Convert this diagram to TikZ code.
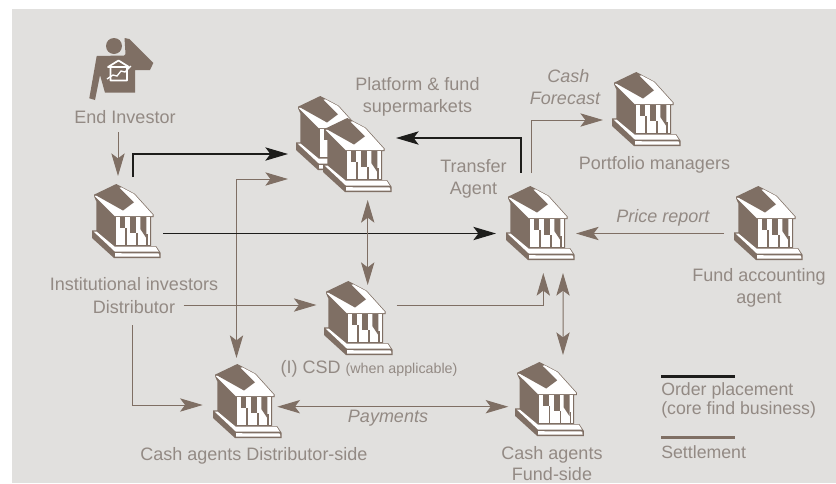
\documentclass[tikz,border=0pt]{standalone}
\usepackage{fontspec}
\setmainfont{Liberation Sans}
\usetikzlibrary{arrows.meta}
\definecolor{bgc}{HTML}{E1E0DE}
\definecolor{brownc}{HTML}{7F6F64}
\definecolor{txtc}{HTML}{938A84}
\definecolor{blackc}{HTML}{1D1D1B}
\tikzset{
  x=0.75pt,y=-0.75pt,
  tip/.style={-{Stealth[length=17pt,width=10pt,inset=3.8pt]}},
  bothtips/.style={{Stealth[length=17pt,width=10pt,inset=3.8pt]}-{Stealth[length=17pt,width=10pt,inset=3.8pt]}},
  settleline/.style={draw=brownc,line width=0.75pt,brownc},
  orderline/.style={draw=blackc,line width=0.85pt,blackc},
  banknode/.style={inner sep=0pt,minimum width=51.75pt,minimum height=55.5pt},
  lab/.style={text=txtc,font=\fontsize{13.5pt}{16.7pt}\selectfont,align=center,inner sep=0pt},
  ilab/.style={lab,font=\fontsize{13.5pt}{16.7pt}\selectfont\itshape},
  leglab/.style={lab,align=left,anchor=west,font=\fontsize{13.3pt}{14.8pt}\selectfont},
  bank/.pic={
    \begin{scope}[shift={(-34.5,-37)}]
    \fill[brownc] (2,10.7)--(24.3,0)--(42.7,9.7)--(61.7,30.7)--(61.7,33)--(59,33)--(59,62)--(64,62)--(68.7,69)--(68.7,74)--(22,74)--(0,54)--(0,46.3)--(4.3,46.3)--(4.3,17.3)--(2,12.3)--cycle;
    \fill[white] (2.5,12)--(29.3,3.3)--(42,10)--(60.7,30.7)--(60.7,32)--(22.7,32)--cycle;
    \fill[brownc] (3,10.8)--(24.3,0.8)--(42,18.3)--(31,26.5)--cycle;
    \fill[white] (23.7,33)--(57.8,33)--(57.8,61)--(23.7,61)--cycle;
    \fill[brownc] (27.7,33)--(33.3,33)--(33.3,44)--(27.7,44)--cycle;
    \fill[brownc] (33.3,44)--(34.7,44)--(34.7,61.5)--(33.3,61.5)--cycle;
    \fill[brownc] (38.3,33) rectangle (44.3,49);
    \fill[brownc] (44.3,49) rectangle (45.7,61.5);
    \fill[brownc] (48.3,33)--(54.3,33)--(54.3,54)--(48.3,45)--cycle;
    \fill[brownc] (54.3,50) rectangle (56,61.5);
    \fill[white] (1.5,47.5)--(4.5,47.5)--(22.5,62.5)--(63.5,62.5)--(66.8,67.7)--(23,67.7)--cycle;
    \fill[white] (23,69.2)--(67,69.5)--(67.4,72.7)--(23,72.7)--cycle;
    \end{scope}
  },
}
\begin{document}
\begin{tikzpicture}
\useasboundingbox (0,0) rectangle (836,483);
\fill[white] (0,0) rectangle (836,483);
\fill[bgc] (12,9) rectangle (836,483);

% investor icon
\node[circle,fill=brownc,inner sep=0pt,minimum size=12pt] (head) at (114,46) {};
\fill[brownc] (96.7,56)--(124,55.5)--(125.5,54)--(124.5,38)--(129.5,39)--(153.3,63)--(150,70)--(135,70)--(135,92.7)--(105,92.7)--(100,75)--(95,100)--(89.3,98.3)--cycle;
\draw[white,line width=1.3pt,line join=round] (108,67)--(118.5,60.5)--(129,67)--cycle (110.5,67)--(110.5,80.5)--(127,80.5)--(127,67);
\draw[white,line width=1pt] (107,79)--(113,75)--(117,76)--(121,71)--(125,72)--(131,66);
\node[lab] (ei) at (125,117) {End Investor};

% banks
\node[banknode] (inst) at (126.5,221) {};
\pic at (inst.center) {bank};
\node[banknode,minimum width=72pt,minimum height=72pt] (plat) at (344,144) {};
\pic at ([shift={(-13.5,-11)}]plat.center) {bank};
\pic at ([shift={(13.5,11)}]plat.center) {bank};
\node[banknode] (ta) at (540.5,223) {};
\pic at (ta.center) {bank};
\node[banknode] (pf) at (646.5,109) {};
\pic at (pf.center) {bank};
\node[banknode] (fa) at (768.5,223) {};
\pic at (fa.center) {bank};
\node[banknode] (csd) at (358.5,318) {};
\pic at (csd.center) {bank};
\node[banknode] (cd) at (247.5,401) {};
\pic at (cd.center) {bank};
\node[banknode] (cf) at (549.7,399) {};
\pic at (cf.center) {bank};

% labels
\node[lab] (platl) at (417.5,97) {Platform \& fund\\supermarkets};
\node[ilab] (cashl) at (565,87) {\hspace*{5pt}Cash\\Forecast};
\node[lab] (tal) at (473.5,179) {Transfer\\Agent};
\node[lab] (pfl) at (654.5,165) {Portfolio managers};
\node[ilab] (prl) at (663,218) {Price report};
\node[lab] (fal) at (759,288) {Fund accounting\\agent};
\node[lab] (instl) at (134,295.5) {Institutional investors\\Distributor};
\node[lab] (csdl) at (369,369) {(I) CSD {\fontsize{10.7pt}{12pt}\selectfont(when applicable)}};
\node[lab] (cdl) at (254,456) {Cash agents Distributor-side};
\node[ilab] (payl) at (388,418) {Payments};
\node[lab,font=\fontsize{13.5pt}{16pt}\selectfont] (cfl) at (552,463.5) {Cash agents\\Fund-side};

% connectors
\draw[settleline,tip] ([shift={(-8.5,-89)}]inst.center) -- ([shift={(-8.5,-45)}]inst.center);
\draw[orderline,tip] ([shift={(6.5,-44)}]inst.center) |- ([shift={(-56,10)}]plat.center);
\draw[settleline,bothtips] ([shift={(-56,35)}]plat.center) -| ([shift={(-11,-43)}]cd.center);
\draw[orderline,tip] ([shift={(36.5,12.5)}]inst.center) -- ([shift={(-44.5,10.5)}]ta.center);
\draw[settleline,bothtips] ([shift={(23.7,56)}]plat.center) -- ([shift={(9.2,-33)}]csd.center);
\draw[orderline,tip] ([shift={(-19.5,-50.3)}]ta.center) |- ([shift={(52,-6)}]plat.center);
\draw[settleline,tip] ([shift={(-8.8,-50)}]ta.center) |- ([shift={(-43.5,11)}]pf.center);
\draw[settleline,tip] ([shift={(-44.5,10.5)}]fa.center) -- ([shift={(35.5,10.5)}]ta.center);
\draw[settleline,tip] ([shift={(57,84)}]inst.center) -- ([shift={(-42,-13)}]csd.center);
\draw[settleline,tip] ([shift={(38,-13)}]csd.center) -| ([shift={(2.8,50)}]ta.center);
\draw[settleline,bothtips] ([shift={(22.5,50)}]ta.center) -- ([shift={(13.3,-44)}]cf.center);
\draw[settleline,tip] ([shift={(6.2,104)}]inst.center) |- ([shift={(-44.8,4)}]cd.center);
\draw[settleline,bothtips] ([shift={(29.8,5.7)}]cd.center) -- ([shift={(-41.4,7.7)}]cf.center);

% legend
\draw[blackc,line width=1.9pt] (661,376.7) -- (735,376.7);
\node[leglab] (leg1) at (661,400.3) {Order placement\\(core find business)};
\draw[brownc,line width=1.9pt] (661,437.3) -- (735,437.3);
\node[leglab] (leg2) at (661,451.7) {Settlement};
\end{tikzpicture}
\end{document}
